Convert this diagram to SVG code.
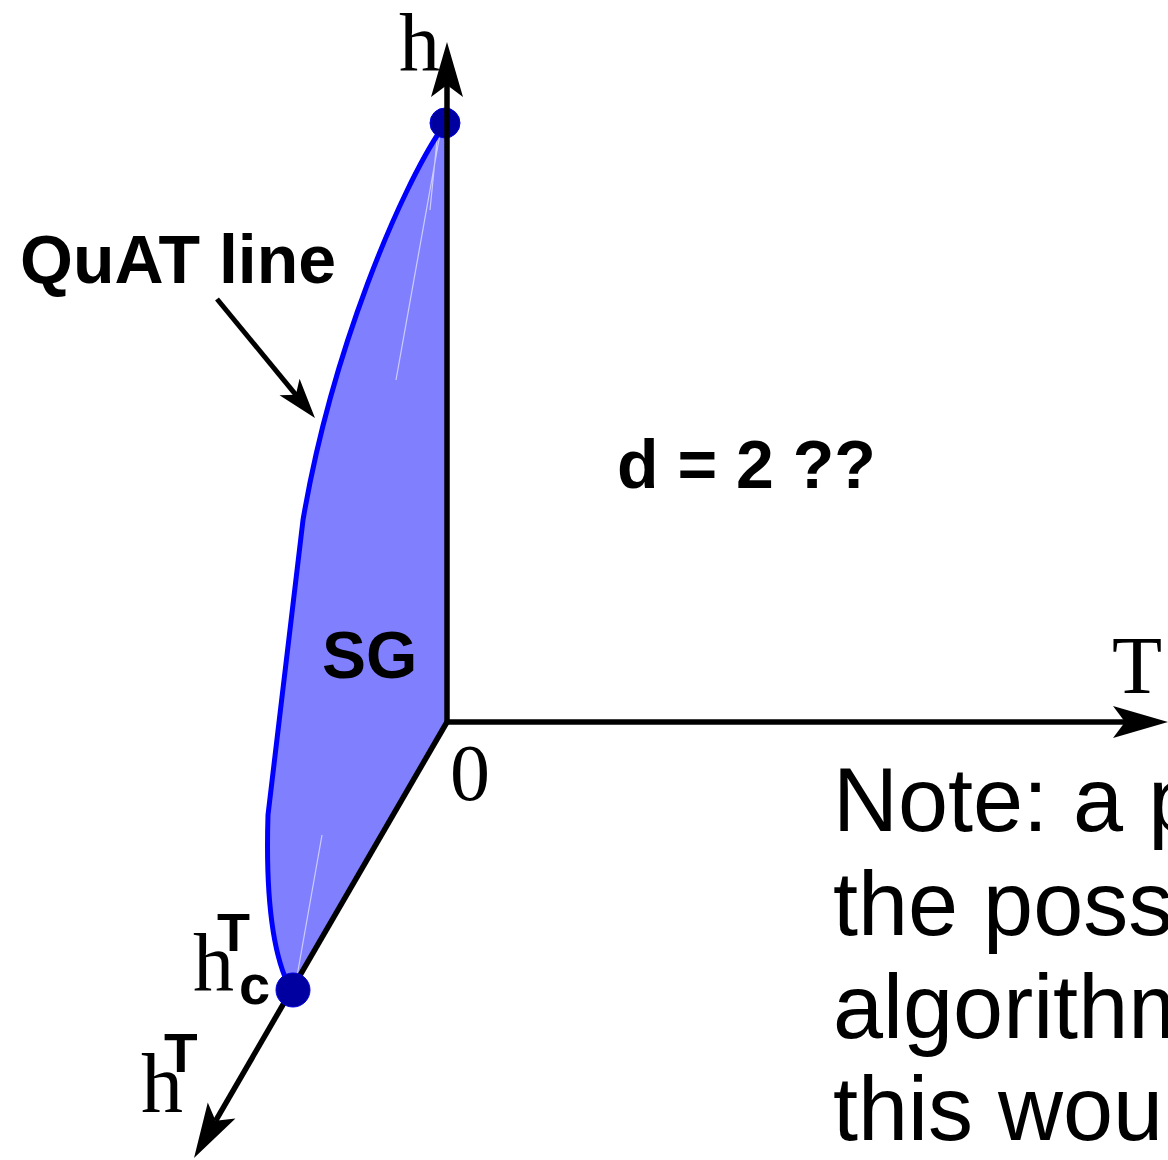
<svg xmlns="http://www.w3.org/2000/svg" width="1168" height="1160" viewBox="0 0 1168 1160">
<style>
.ser{font-family:"Liberation Serif","Times New Roman",serif;fill:#000}
.bold{font-family:"Liberation Sans",Arial,sans-serif;font-weight:bold;fill:#000}
.reg{font-family:"Liberation Sans",Arial,sans-serif;fill:#000}
.axis{stroke:#000;stroke-width:5.5;fill:none}
.dot{fill:#0000a0;stroke:#0000e0;stroke-width:1}
</style>
<defs>
<marker id="bigArrow" markerUnits="userSpaceOnUse" viewBox="-57 -17 58 34" markerWidth="58" markerHeight="34" refX="-43" refY="0" orient="auto">
<path d="M0,0 L-55,-16 L-43,0 L-55,16 Z" fill="#000"/>
</marker>
<marker id="smallArrow" markerUnits="userSpaceOnUse" viewBox="-41 -14 42 28" markerWidth="42" markerHeight="28" refX="-30" refY="0" orient="auto">
<path d="M0,0 L-40,-13 L-30,0 L-40,13 Z" fill="#000"/>
</marker>
</defs>
<rect width="1168" height="1160" fill="#fff"/>

<g id="sg-region">
<path d="M442,128 C400,190 332,350 303,520 L268,815 C266,880 270,950 290,988 L293,990 L447,722 L447,123 Z" fill="#8080ff"/>
<path d="M440,134 L396,380 M437,140 L430,210 M322,835 L296,982" stroke="#fff" stroke-width="1.2" opacity="0.6" fill="none"/>
</g>

<g id="quat-curve">
<path d="M442,128 C400,190 332,350 303,520 L268,815 C266,880 270,950 290,988" fill="none" stroke="#0000ff" stroke-width="5"/>
</g>

<g id="top-point"><circle class="dot" cx="445" cy="123" r="15"/></g>

<g id="connectors">
<line class="axis" x1="447" y1="724" x2="447" y2="85" marker-end="url(#bigArrow)"/>
<line class="axis" x1="445" y1="722" x2="1125" y2="722" marker-end="url(#bigArrow)"/>
<line class="axis" x1="447" y1="722" x2="215.6" y2="1120.8" marker-end="url(#bigArrow)"/>
<line x1="217" y1="299" x2="295.9" y2="394.8" stroke="#000" stroke-width="5" marker-end="url(#smallArrow)"/>
</g>

<g id="hc-point"><circle class="dot" cx="293" cy="990" r="17"/></g>

<g id="labels">
<text class="ser" x="399" y="70" font-size="82">h</text>
<text class="ser" x="1112" y="693" font-size="82">T</text>
<text class="ser" x="450" y="800" font-size="80">0</text>
<text class="bold" x="20" y="283" font-size="68">QuAT line</text>
<text class="bold" x="617" y="488" font-size="68">d = 2 ??</text>
<text class="bold" x="322" y="678" font-size="66">SG</text>
<text class="ser" x="193" y="990" font-size="82">h</text>
<text class="bold" x="217" y="951" font-size="54">T</text>
<text class="bold" x="239" y="1004" font-size="56">c</text>
<text class="ser" x="141" y="1112" font-size="84">h</text>
<text class="bold" x="164" y="1072" font-size="55">T</text>
</g>

<g id="note">
<text class="reg" font-size="90"><tspan x="833" y="831">Note: a p</tspan><tspan x="833" y="935">the poss</tspan><tspan x="833" y="1038">algorithm</tspan><tspan x="833" y="1140">this wou</tspan></text>
</g>
</svg>
